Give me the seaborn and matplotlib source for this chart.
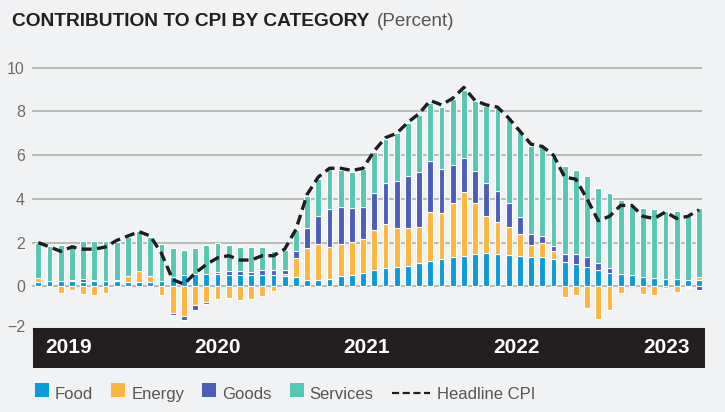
import numpy as np
import pandas as pd
import matplotlib
matplotlib.use("Agg")
import matplotlib.pyplot as plt
import seaborn as sns
from matplotlib.patches import Rectangle
from matplotlib.lines import Line2D

# ---------------- data ----------------
months = pd.period_range("2019-04", "2024-03", freq="M").strftime("%Y-%m").tolist()

food = [0.21, 0.25, 0.22, 0.22, 0.20, 0.22, 0.25, 0.25, 0.20, 0.20,
        0.20, 0.25, 0.44, 0.52, 0.58, 0.55, 0.55, 0.52, 0.50, 0.50,
        0.50, 0.50, 0.45, 0.44, 0.29, 0.29, 0.32, 0.47, 0.50, 0.63,
        0.73, 0.84, 0.87, 0.95, 1.08, 1.17, 1.27, 1.36, 1.37, 1.46,
        1.51, 1.49, 1.45, 1.40, 1.36, 1.36, 1.27, 1.13, 1.00, 0.87,
        0.75, 0.63, 0.56, 0.50, 0.44, 0.37, 0.35, 0.35, 0.29, 0.29]

energy = [0.16, 0.00, -0.30, -0.18, -0.37, -0.40, -0.33, 0.00, 0.29, 0.50,
          0.25, -0.38, -1.20, -1.35, -0.86, -0.72, -0.60, -0.55, -0.65, -0.60,
          -0.45, -0.20, 0.10, 0.84, 1.48, 1.66, 1.49, 1.45, 1.54, 1.52,
          1.85, 2.03, 1.78, 1.70, 1.65, 2.21, 2.10, 2.44, 2.96, 2.34,
          1.72, 1.45, 1.28, 0.99, 0.53, 0.61, 0.36, -0.50, -0.40, -0.98,
          -1.50, -1.08, -0.29, 0.00, -0.37, -0.40, -0.10, -0.24, -0.05, 0.15]

goods = [0.00, -0.05, 0.00, 0.05, 0.12, 0.08, 0.00, 0.03, 0.00, 0.00,
         0.00, 0.00, -0.12, -0.18, -0.22, -0.08, 0.12, 0.20, 0.20, 0.15,
         0.25, 0.25, 0.20, 0.34, 0.88, 1.28, 1.74, 1.72, 1.56, 1.49,
         1.70, 1.87, 2.18, 2.40, 2.51, 2.37, 1.98, 1.73, 1.52, 1.49,
         1.51, 1.40, 1.10, 0.77, 0.49, 0.33, 0.23, 0.33, 0.46, 0.46,
         0.30, 0.19, 0.02, 0.00, 0.00, 0.00, 0.00, -0.08, -0.05, -0.15]

services = [1.63, 1.59, 1.67, 1.67, 1.75, 1.77, 1.82, 1.76, 1.75, 1.83,
            1.82, 1.69, 1.31, 1.16, 1.16, 1.34, 1.30, 1.17, 1.08, 1.13,
            1.06, 0.87, 0.91, 0.96, 1.50, 1.66, 1.82, 1.68, 1.61, 1.73,
            1.88, 2.01, 2.17, 2.43, 2.60, 2.62, 2.87, 3.02, 3.15, 3.19,
            3.51, 3.83, 3.85, 3.91, 4.05, 4.06, 4.04, 4.04, 3.86, 3.72,
            3.46, 3.43, 3.39, 3.22, 3.16, 3.15, 3.10, 3.10, 3.02, 3.16]

headline = [2.0, 1.8, 1.6, 1.8, 1.7, 1.7, 1.8, 2.1, 2.3, 2.5,
            2.3, 1.5, 0.3, 0.1, 0.6, 1.0, 1.3, 1.4, 1.2, 1.2,
            1.4, 1.4, 1.7, 2.6, 4.2, 5.0, 5.4, 5.4, 5.3, 5.4,
            6.2, 6.8, 7.0, 7.5, 7.9, 8.5, 8.3, 8.6, 9.1, 8.5,
            8.3, 8.2, 7.7, 7.1, 6.5, 6.4, 6.0, 5.0, 4.9, 4.0,
            3.0, 3.2, 3.7, 3.7, 3.2, 3.1, 3.4, 3.1, 3.2, 3.5]

categories = ["Food", "Energy", "Goods", "Services"]
colors = ["#0a9bdb", "#ffb53d", "#4d5dba", "#55c7b2"]
year_labels = ["2019", "2020", "2021", "2022", "2023"]
yticks = [0, 2, 4, 6, 8, 10]

# ---------------- style ----------------
BG = "#f1f2f4"
sns.set_theme(style="white")
plt.rcParams["font.family"] = ["Liberation Sans", "DejaVu Sans"]

W, H = 725, 412
fig = plt.figure(figsize=(W / 100, H / 100), dpi=100, facecolor=BG)


def fx(px):
    return px / W


def fy(py):
    return 1 - py / H


ax_left, ax_right, ax_top, ax_bottom = 32.3, 701.7, 59.0, 327.8
ax = fig.add_axes([fx(ax_left), fy(ax_bottom), (ax_right - ax_left) / W, (ax_bottom - ax_top) / H])
ax.set_facecolor(BG)

series = {"Food": food, "Energy": energy, "Goods": goods, "Services": services}
n = len(months)
pos = np.zeros(n)
neg = np.zeros(n)
for name, col in zip(categories, colors):
    v = np.asarray(series[name], dtype=float)
    bottom = np.where(v >= 0, pos, neg)
    sns.barplot(x=months, y=v, bottom=bottom, color=col, saturation=1,
                width=0.52, edgecolor="white", linewidth=0.8,
                errorbar=None, ax=ax, zorder=2)
    pos = pos + np.where(v > 0, v, 0)
    neg = neg + np.where(v < 0, v, 0)

sns.lineplot(x=np.arange(n), y=headline, ax=ax, color="#1e1e1e",
             linewidth=2.4, linestyle=(0, (3.0, 1.6)), dash_capstyle="butt",
             zorder=4)

ax.set_xlim(-0.54, n - 1 + 0.24)
ax.set_ylim(-1.9, 10.4)
ax.set_xticks([])
ax.set_xlabel("")
ax.set_ylabel("")
ax.set_yticks(yticks)
ax.set_yticklabels([str(t) for t in yticks])
ax.tick_params(axis="y", length=0, pad=5.3, labelsize=11.5, labelcolor="#6b6b6b")
ax.yaxis.grid(True, color="#b0b0b0", linewidth=1.2)
ax.xaxis.grid(False)
ax.set_axisbelow(True)
for s in ["top", "right", "left"]:
    ax.spines[s].set_visible(False)
ax.spines["bottom"].set_color("#d2d2d2")
ax.spines["bottom"].set_linewidth(1.0)

# -2 label (below the visible range, next to the band)
fig.text(fx(25.5), fy(328), "\u22122", ha="right", va="center",
         fontsize=11.5, color="#6b6b6b")

# dark year band
fig.patches.append(Rectangle((fx(33), fy(367.7)), (705 - 33) / W, 40 / H,
                             transform=fig.transFigure, facecolor="#231f20",
                             edgecolor="none", zorder=1))
for lbl, cx in zip(year_labels, [68.5, 217.5, 366.5, 517, 667]):
    fig.text(fx(cx), fy(347.5), lbl, ha="center", va="center", color="white",
             fontsize=15, fontweight="bold", zorder=2)

# title
renderer = fig.canvas.get_renderer()
t1 = fig.text(fx(12), fy(26), "CONTRIBUTION TO CPI BY CATEGORY", ha="left",
              va="baseline", fontsize=13.8, fontweight="bold", color="#231f20")
bb = t1.get_window_extent(renderer)
fig.text(bb.x1 / W + fx(7), fy(26), "(Percent)", ha="left", va="baseline",
         fontsize=13.6, color="#555555")

# legend (manual)
x = 35.0
base = 399.3
for name, col in zip(categories, colors):
    fig.patches.append(Rectangle((fx(x), fy(396.7)), 14 / W, 13.4 / H,
                                 transform=fig.transFigure, facecolor=col,
                                 edgecolor="none"))
    t = fig.text(fx(x + 20), fy(base), name, ha="left", va="baseline",
                 fontsize=12, color="#555555")
    x = t.get_window_extent(renderer).x1 + 18
fig.lines.append(Line2D([fx(x), fx(x + 38)], [fy(392.7), fy(392.7)],
                        transform=fig.transFigure, color="#1e1e1e",
                        linewidth=1.6, linestyle=(0, (3.2, 1.6)),
                        dash_capstyle="butt"))
fig.text(fx(x + 45), fy(base), "Headline CPI", ha="left", va="baseline",
         fontsize=12, color="#555555")

fig.savefig("out.png", dpi=100, facecolor=BG)
